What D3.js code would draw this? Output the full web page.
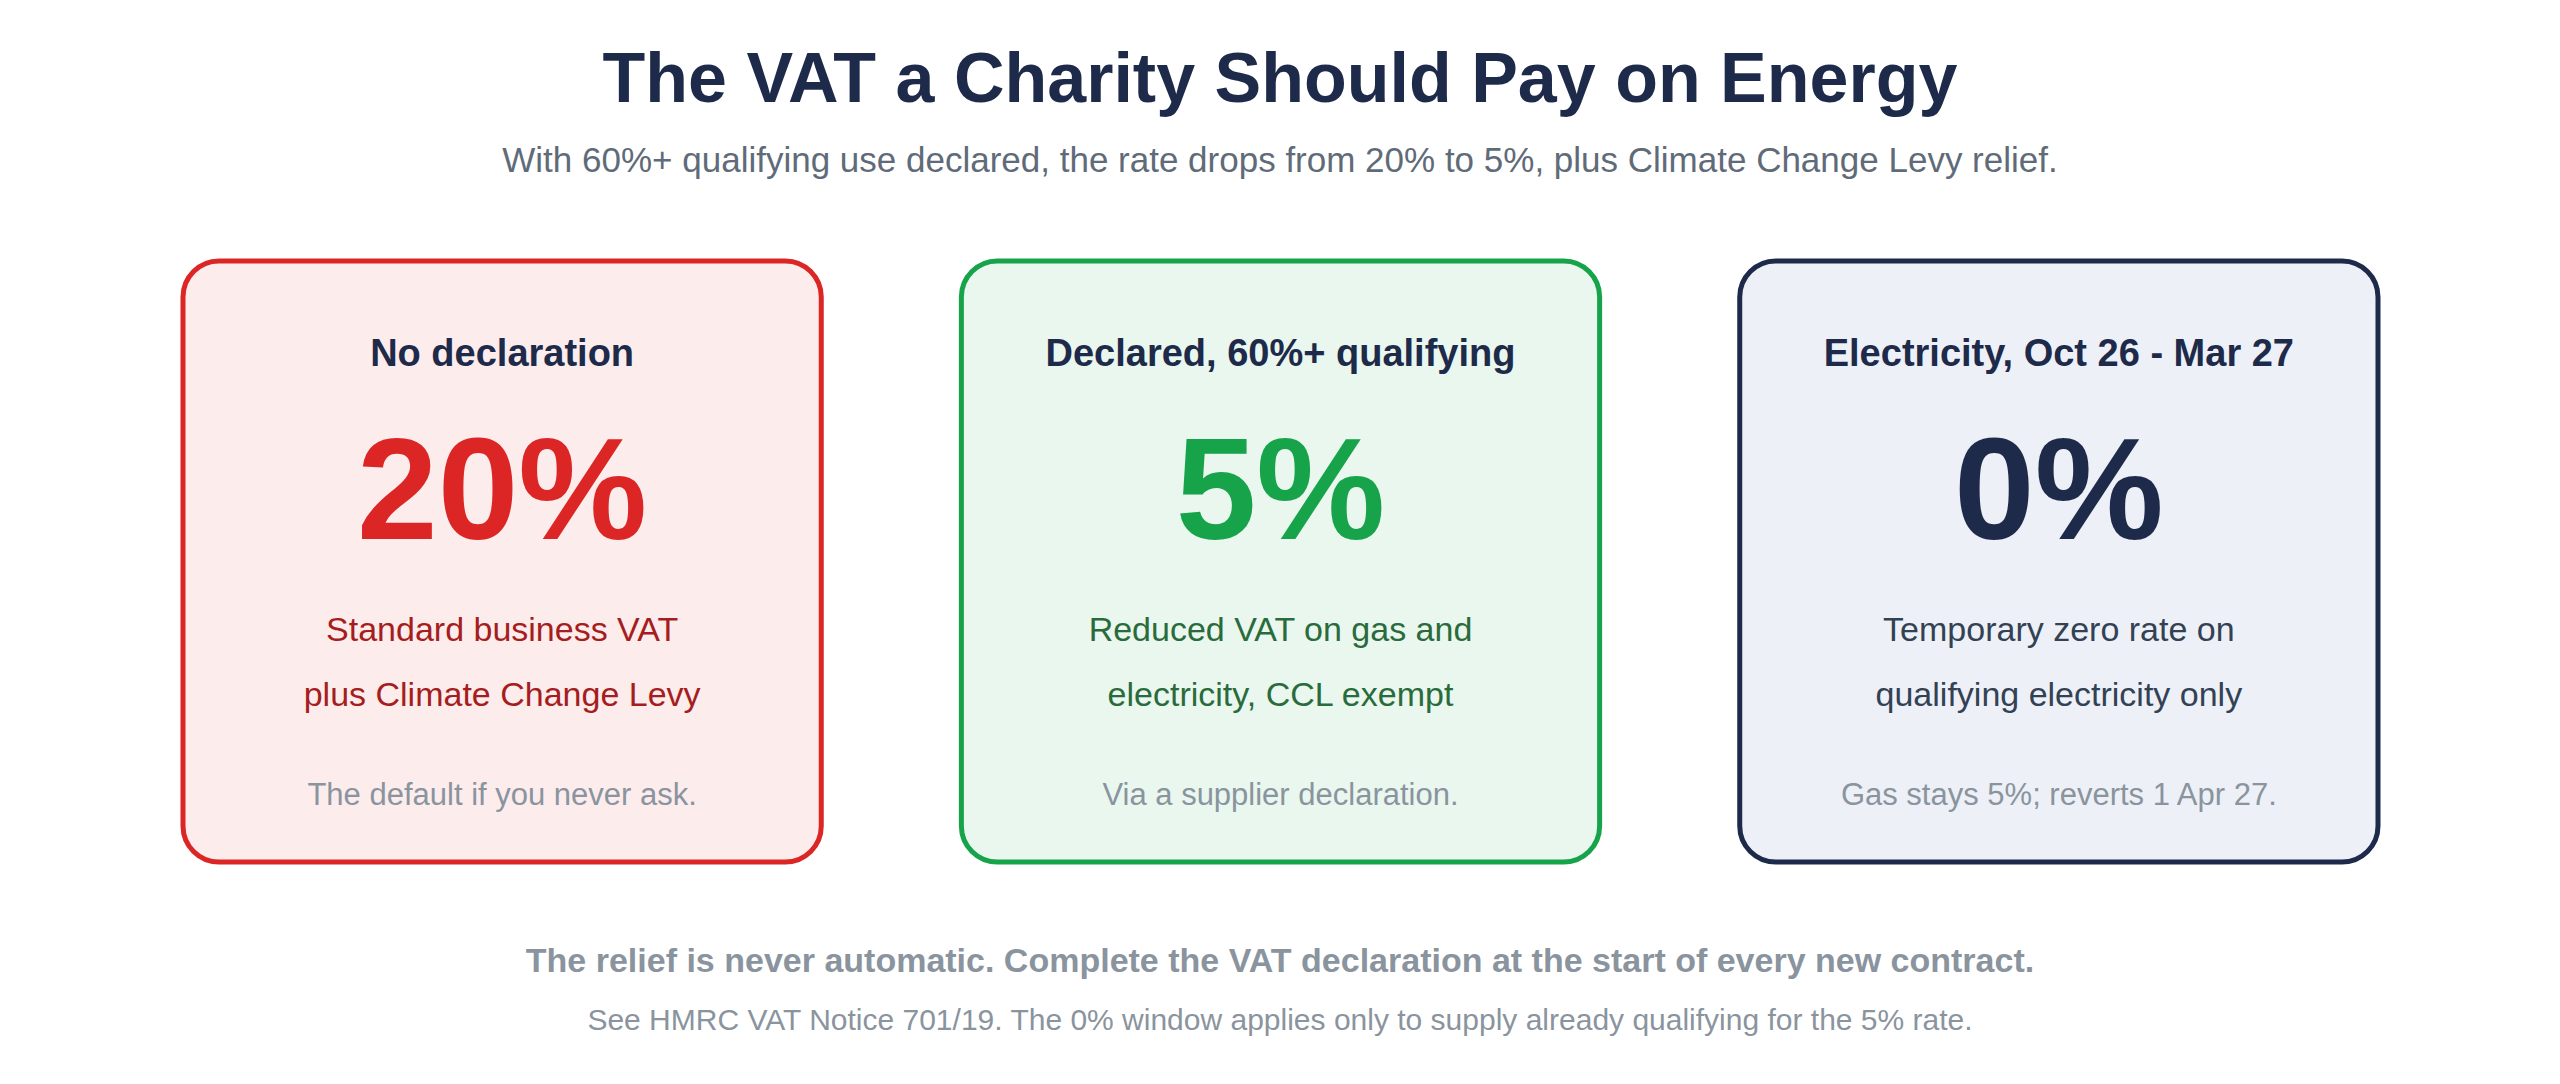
<!DOCTYPE html>
<html>
<head>
<meta charset="utf-8">
<script src="https://cdn.jsdelivr.net/npm/d3@7"></script>
<style>
  body { margin: 0; background: #fff; }
  text { font-family: "Liberation Sans", Arial, sans-serif; }
</style>
</head>
<body>
<div id="chart"></div>
<script>
// card content
var cardTitles = ["No declaration", "Declared, 60%+ qualifying", "Electricity, Oct 26 - Mar 27"]
var rates = ["20%", "5%", "0%"]
var descLine1 = ["Standard business VAT", "Reduced VAT on gas and", "Temporary zero rate on"]
var descLine2 = ["plus Climate Change Levy", "electricity, CCL exempt", "qualifying electricity only"]
var notes = ["The default if you never ask.", "Via a supplier declaration.", "Gas stays 5%; reverts 1 Apr 27."]

var strokeCol = ["#dc2626", "#16a34a", "#1e2a4a"]
var fillCol = ["#fcecec", "#e9f7ee", "#edf1f7"]
var rateCol = ["#dc2626", "#16a34a", "#1e2a4a"]
var descCol = ["#a51d1d", "#2a6b3c", "#334155"]

var W = 2560, H = 1084

var svg = d3.select("#chart").append("svg")
  .attr("width", W).attr("height", H)

svg.append("text").attr("x", W / 2).attr("y", 102)
  .attr("text-anchor", "middle").attr("font-size", 70).attr("font-weight", "bold")
  .attr("fill", "#1e2a4a").text("The VAT a Charity Should Pay on Energy")

svg.append("text").attr("x", W / 2).attr("y", 172)
  .attr("text-anchor", "middle").attr("font-size", 35)
  .attr("fill", "#5f6b78")
  .text("With 60%+ qualifying use declared, the rate drops from 20% to 5%, plus Climate Change Levy relief.")

// card positions from a band scale
var x = d3.scaleBand().domain(d3.range(3)).range([183, 2378]).paddingInner(0.18)
var cw = x.bandwidth()
var cardTop = 261, ch = 601

var cards = svg.selectAll(".card").data(d3.range(3)).enter()
  .append("g").attr("class", "card")
  .attr("transform", function (i) { return "translate(" + x(i) + "," + cardTop + ")" })

cards.append("rect")
  .attr("width", cw).attr("height", ch).attr("rx", 36)
  .attr("fill", function (i) { return fillCol[i] })
  .attr("stroke", function (i) { return strokeCol[i] })
  .attr("stroke-width", 5)

cards.append("text").attr("x", cw / 2).attr("y", 105)
  .attr("text-anchor", "middle").attr("font-size", 38).attr("font-weight", "bold")
  .attr("fill", "#1e2a4a").text(function (i) { return cardTitles[i] })

cards.append("text").attr("x", cw / 2).attr("y", 278)
  .attr("text-anchor", "middle").attr("font-size", 145).attr("font-weight", "bold")
  .attr("fill", function (i) { return rateCol[i] }).text(function (i) { return rates[i] })

cards.append("text").attr("x", cw / 2).attr("y", 380)
  .attr("text-anchor", "middle").attr("font-size", 34)
  .attr("fill", function (i) { return descCol[i] }).text(function (i) { return descLine1[i] })

cards.append("text").attr("x", cw / 2).attr("y", 445)
  .attr("text-anchor", "middle").attr("font-size", 34)
  .attr("fill", function (i) { return descCol[i] }).text(function (i) { return descLine2[i] })

cards.append("text").attr("x", cw / 2).attr("y", 544)
  .attr("text-anchor", "middle").attr("font-size", 31)
  .attr("fill", "#8a949e").text(function (i) { return notes[i] })

svg.append("text").attr("x", W / 2).attr("y", 972)
  .attr("text-anchor", "middle").attr("font-size", 34).attr("font-weight", "bold")
  .attr("fill", "#8a949e")
  .text("The relief is never automatic. Complete the VAT declaration at the start of every new contract.")

svg.append("text").attr("x", W / 2).attr("y", 1030)
  .attr("text-anchor", "middle").attr("font-size", 30)
  .attr("fill", "#8a949e")
  .text("See HMRC VAT Notice 701/19. The 0% window applies only to supply already qualifying for the 5% rate.")
</script>
</body>
</html>
